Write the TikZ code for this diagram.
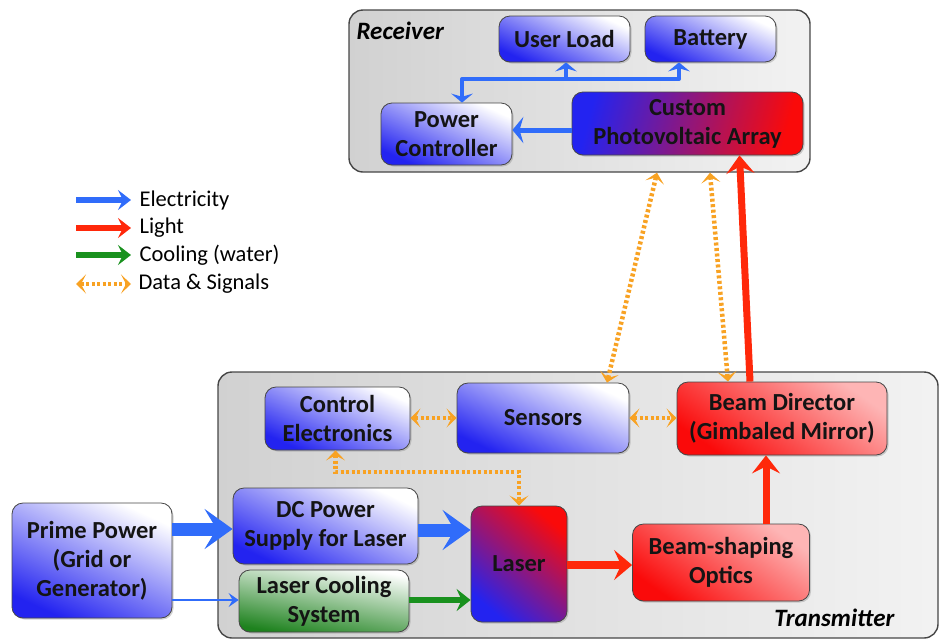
\documentclass[tikz,border=0pt]{standalone}
\usepackage{fontspec}
\setmainfont{Carlito}
\usetikzlibrary{arrows.meta,shadows}
\definecolor{eblue}{RGB}{48,108,250}
\definecolor{lred}{RGB}{255,40,10}
\definecolor{cgreen}{RGB}{25,145,30}
\definecolor{dorange}{RGB}{248,162,35}
\definecolor{bxblue}{RGB}{35,35,240}
\definecolor{bxred}{RGB}{250,10,10}
\definecolor{bxgreen}{RGB}{30,130,30}
\definecolor{edge}{RGB}{70,70,70}
\tikzset{
  box/.style={draw=edge, line width=0.8pt, rounded corners=11pt, align=center,
    font=\fontsize{24.5}{29}\selectfont\bfseries, text=black!92, inner sep=0pt,
    drop shadow={opacity=0.35, shadow xshift=1.5pt, shadow yshift=-1.5pt}},
  bluebox/.style={box, top color=white, bottom color=bxblue, shading angle=-25},
  redbox/.style={box, top color=bxred!30, bottom color=bxred, shading angle=-35},
  greenbox/.style={box, top color=white, bottom color=bxgreen, shading angle=-10},
  frame/.style={draw=edge, line width=1.4pt, rounded corners=14pt,
    left color=black!18, right color=black!5},
  tipE/.style={-{Stealth[length=#1, width=2.4*#1, inset=0.35*#1]}},
  data/.style={draw=dorange, line width=4.5pt, dash pattern=on 3pt off 2.5pt,
    {Stealth[length=10pt,width=19pt,inset=5pt]}-{Stealth[length=10pt,width=19pt,inset=5pt]}},
  lbl/.style={font=\fontsize{25}{29}\selectfont\bfseries\itshape},
  leg/.style={font=\fontsize{22.5}{26}\selectfont, anchor=west}
}
\begin{document}
\begin{tikzpicture}[x=1pt,y=-1pt]
\useasboundingbox (0,0) rectangle (940,638);

% frames
\node[frame, minimum width=461pt, minimum height=162pt] (recv) at (579.5,91) {};
\node[frame, minimum width=720pt, minimum height=266pt] (trans) at (578,505) {};
\node[lbl, anchor=west] (recvlbl) at (353,31) {Receiver};
\node[lbl, anchor=east] (translbl) at (898,618) {Transmitter};

% receiver nodes
\node[bluebox, minimum width=131pt, minimum height=46pt] (userload) at (564.5,39) {User Load};
\node[bluebox, minimum width=131pt, minimum height=46pt] (battery) at (710.5,39) {Battery};
\node[bluebox, minimum width=131pt, minimum height=62pt] (pc) at (446.5,134) {Power\\Controller};
\node[box, left color=bxblue, right color=bxred, shading angle=75, minimum width=231pt, minimum height=63pt] (pv) at (687.5,123.5) {Custom\\Photovoltaic Array};

% transmitter nodes
\node[bluebox, minimum width=145pt, minimum height=63pt] (ctrl) at (337.5,418.5) {Control\\Electronics};
\node[bluebox, minimum width=172pt, minimum height=70pt] (sensors) at (543,418) {Sensors};
\node[redbox, minimum width=210pt, minimum height=73pt] (beamdir) at (782,418.5) {Beam Director\\(Gimbaled Mirror)};
\node[bluebox, minimum width=160pt, minimum height=115pt] (prime) at (92,560.5) {Prime Power\\(Grid or\\Generator)};
\node[bluebox, minimum width=185pt, minimum height=76pt] (dcps) at (325.5,526) {DC Power\\Supply for Laser};
\node[greenbox, minimum width=170pt, minimum height=62pt] (cooling) at (324,601) {Laser Cooling\\System};
\node[box, top color=bxred, bottom color=bxblue, shading angle=-40, minimum width=96pt, minimum height=116pt] (laser) at (519,564) {Laser};
\node[redbox, minimum width=177pt, minimum height=77pt] (shaping) at (721,562.5) {Beam-shaping\\Optics};

% receiver arrows
\coordinate (busL) at (462,79);
\coordinate (busM) at (566,79);
\coordinate (busR) at (679,79);
\draw[eblue, line width=4pt, line cap=round] (busL) -- (busR);
\draw[eblue, line width=4pt, tipE=9pt] (busL) -- (busL |- pc.north);
\draw[eblue, line width=4pt, tipE=9pt] (busM) -- (busM |- userload.south);
\draw[eblue, line width=4pt, tipE=9pt] (busR) -- (busR |- battery.south);
\draw[eblue, line width=5pt, tipE=11pt] (pv.west |- 0,130) -- (pc.east |- 0,130);

% transmitter arrows
\draw[eblue, line width=13pt, -{Stealth[length=28pt, width=40pt, inset=12pt]}] (prime.east |- 0,529) -- (dcps.west |- 0,529);
\draw[eblue, line width=13pt, -{Stealth[length=28pt, width=40pt, inset=12pt]}] (dcps.east |- 0,530) -- (laser.west |- 0,530);
\draw[eblue, line width=2.5pt, -{Stealth[length=10pt, width=14pt, inset=4pt]}] (prime.east |- 0,600) -- (cooling.west |- 0,600);
\draw[cgreen, line width=5.5pt, -{Stealth[length=14pt, width=22pt, inset=5pt]}] (cooling.east |- 0,600) -- (laser.west |- 0,600);
\draw[lred, line width=8pt, -{Stealth[length=18pt, width=30pt, inset=7pt]}] (laser.east |- 0,565) -- (shaping.west |- 0,565);
\draw[lred, line width=7pt, -{Stealth[length=18pt, width=28pt, inset=7pt]}] (shaping.north -| 766,0) -- (beamdir.south -| 766,0);
\draw[lred, line width=7pt, -{Stealth[length=18pt, width=28pt, inset=7pt]}] ([xshift=-32pt]beamdir.north) -- ([xshift=52pt]pv.south);

% data arrows
\draw[data] (ctrl.east |- 0,418) -- (sensors.west |- 0,418);
\draw[data] (sensors.east |- 0,418) -- (beamdir.west |- 0,418);
\draw[data] ([xshift=-2pt]ctrl.south) -- ([xshift=-2pt]ctrl.south |- 0,472) -| (laser.north);
\draw[data] ([xshift=64pt]sensors.north) -- ([xshift=77.5pt]recv.south);
\draw[data] ([xshift=-54pt]beamdir.north) -- ([xshift=130.5pt]recv.south);

% legend
\coordinate (l1) at (76,200);
\coordinate (l2) at (76,228);
\coordinate (l3) at (76,255);
\coordinate (l4) at (76,284);
\draw[eblue, line width=6.5pt, -{Stealth[length=13pt, width=20pt, inset=5pt]}] (l1) -- ++(55,0) node[leg, black, xshift=2pt] (t1) {Electricity};
\draw[lred, line width=6.5pt, -{Stealth[length=13pt, width=20pt, inset=5pt]}] (l2) -- ++(55,0) node[leg, black, xshift=2pt] (t2) {Light};
\draw[cgreen, line width=6.5pt, -{Stealth[length=13pt, width=20pt, inset=5pt]}] (l3) -- ++(55,0) node[leg, black, xshift=2pt] (t3) {Cooling (water)};
\draw[dorange, line width=4.5pt, dash pattern=on 3pt off 2.5pt, {Stealth[length=10pt,width=19pt,inset=5pt]}-{Stealth[length=10pt,width=19pt,inset=5pt]}] (l4) -- ++(55,0) node[leg, black, xshift=2pt] (t4) {Data \& Signals};
\end{tikzpicture}
\end{document}
